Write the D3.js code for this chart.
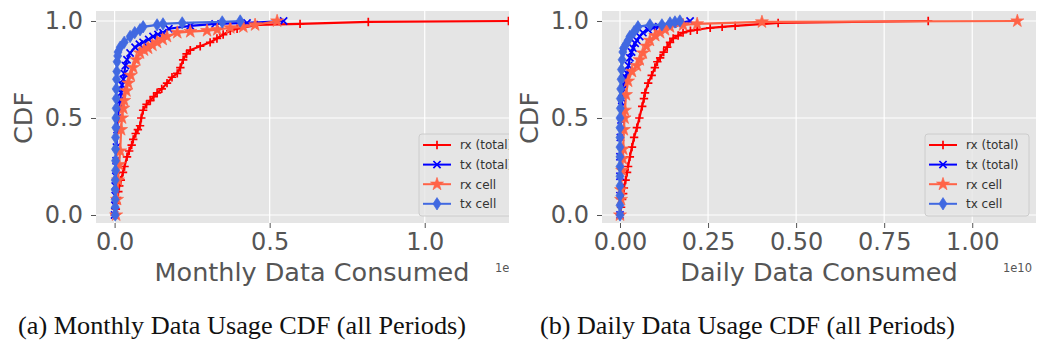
<!DOCTYPE html>
<html>
<head>
<meta charset="utf-8">
<script src="https://cdn.jsdelivr.net/npm/d3@7"></script>
<style>
  body { margin: 0; background: #fff; }
  svg { display: block; }
</style>
</head>
<body>
<svg id="chart" width="1038" height="347"></svg>
<script>
// Series labels (legend order == draw order)
const seriesNames = ['rx (total)', 'tx (total)', 'rx cell', 'tx cell'];

// Monthly usage CDF, x in units of 1e10 bytes: [value, cdf]
const monthlyRxTotal = [[0.000,0.00],[0.004,0.03],[0.006,0.06],[0.008,0.09],[0.012,0.12],[0.015,0.15],[0.020,0.18],[0.027,0.22],[0.032,0.25],[0.040,0.30],[0.047,0.33],[0.055,0.36],[0.060,0.39],[0.068,0.42],[0.075,0.44],[0.082,0.46],[0.086,0.50],[0.092,0.54],[0.103,0.57],[0.115,0.59],[0.126,0.61],[0.137,0.63],[0.152,0.65],[0.169,0.68],[0.185,0.71],[0.202,0.73],[0.212,0.76],[0.221,0.80],[0.232,0.83],[0.244,0.85],[0.276,0.87],[0.308,0.89],[0.330,0.91],[0.350,0.93],[0.373,0.95],[0.395,0.96],[0.460,0.98],[0.598,0.985],[0.818,0.995],[1.270,1.00]];
const monthlyTxTotal = [[0.000,0.00],[0.001,0.05],[0.002,0.10],[0.002,0.15],[0.004,0.20],[0.005,0.28],[0.006,0.35],[0.008,0.44],[0.011,0.50],[0.014,0.55],[0.018,0.59],[0.021,0.63],[0.024,0.67],[0.028,0.70],[0.031,0.73],[0.035,0.77],[0.040,0.80],[0.050,0.835],[0.066,0.865],[0.080,0.88],[0.092,0.89],[0.110,0.905],[0.124,0.92],[0.140,0.93],[0.156,0.94],[0.175,0.96],[0.244,0.975],[0.324,0.985],[0.427,0.99],[0.545,1.00]];
const monthlyRxCell = [[0.005,0.00],[0.008,0.08],[0.011,0.18],[0.014,0.26],[0.018,0.33],[0.021,0.44],[0.024,0.50],[0.028,0.55],[0.031,0.59],[0.038,0.64],[0.044,0.68],[0.052,0.72],[0.060,0.76],[0.070,0.80],[0.082,0.835],[0.095,0.85],[0.108,0.86],[0.122,0.875],[0.137,0.89],[0.155,0.905],[0.169,0.92],[0.202,0.94],[0.244,0.945],[0.298,0.95],[0.331,0.955],[0.373,0.965],[0.415,0.97],[0.453,0.98],[0.524,1.00]];
const monthlyTxCell = [[0.002,0.00],[0.002,0.04],[0.002,0.08],[0.002,0.13],[0.002,0.18],[0.003,0.23],[0.003,0.28],[0.003,0.34],[0.003,0.40],[0.004,0.45],[0.004,0.50],[0.005,0.55],[0.005,0.60],[0.005,0.65],[0.006,0.70],[0.007,0.74],[0.008,0.79],[0.010,0.82],[0.011,0.84],[0.018,0.865],[0.031,0.89],[0.050,0.92],[0.065,0.94],[0.082,0.955],[0.092,0.97],[0.137,0.98],[0.156,0.985],[0.218,0.99],[0.347,0.995],[0.405,1.00]];

// Daily usage CDF, x in units of 1e10 bytes: [value, cdf]
const dailyRxTotal = [[0.000,0.00],[0.003,0.04],[0.006,0.08],[0.009,0.11],[0.011,0.14],[0.016,0.18],[0.020,0.22],[0.023,0.25],[0.028,0.30],[0.034,0.35],[0.040,0.40],[0.048,0.45],[0.055,0.50],[0.063,0.56],[0.068,0.60],[0.071,0.63],[0.080,0.68],[0.090,0.72],[0.099,0.76],[0.106,0.79],[0.114,0.81],[0.124,0.84],[0.134,0.865],[0.142,0.89],[0.151,0.91],[0.165,0.925],[0.179,0.94],[0.200,0.95],[0.219,0.955],[0.256,0.965],[0.290,0.97],[0.327,0.975],[0.449,0.99],[0.875,1.00]];
const dailyTxTotal = [[0.000,0.00],[0.000,0.10],[0.000,0.20],[0.000,0.30],[0.001,0.40],[0.003,0.49],[0.005,0.56],[0.006,0.60],[0.009,0.65],[0.011,0.67],[0.016,0.71],[0.020,0.73],[0.024,0.77],[0.028,0.81],[0.033,0.84],[0.037,0.86],[0.043,0.885],[0.048,0.90],[0.056,0.92],[0.065,0.94],[0.080,0.955],[0.094,0.965],[0.110,0.97],[0.128,0.98],[0.150,0.985],[0.170,0.99],[0.199,1.00]];
const dailyRxCell = [[0.000,0.00],[0.003,0.08],[0.003,0.13],[0.006,0.23],[0.008,0.29],[0.009,0.34],[0.011,0.44],[0.013,0.50],[0.014,0.54],[0.017,0.62],[0.023,0.69],[0.034,0.74],[0.048,0.77],[0.056,0.80],[0.065,0.835],[0.075,0.87],[0.085,0.90],[0.100,0.925],[0.114,0.94],[0.128,0.955],[0.142,0.97],[0.179,0.98],[0.219,0.985],[0.403,0.995],[1.128,1.00]];
const dailyTxCell = [[0.000,0.00],[0.000,0.05],[0.000,0.10],[0.000,0.15],[0.000,0.20],[0.000,0.25],[0.000,0.30],[0.000,0.35],[0.000,0.40],[0.000,0.45],[0.000,0.50],[0.001,0.55],[0.001,0.60],[0.002,0.65],[0.003,0.70],[0.004,0.75],[0.006,0.80],[0.008,0.84],[0.010,0.86],[0.017,0.88],[0.023,0.90],[0.028,0.92],[0.040,0.945],[0.051,0.97],[0.085,0.98],[0.119,0.98],[0.142,0.99],[0.156,0.995],[0.170,1.00]];

// Ticks and labels
const cdfTicks = [0, 0.5, 1.0];
const monthlyTicks = [0, 0.5, 1.0];
const dailyTicks = [0, 0.25, 0.5, 0.75, 1.0];
const captions = ['(a) Monthly Data Usage CDF (all Periods)', '(b) Daily Data Usage CDF (all Periods)'];

// Styles
const colors = ['#ff0000', '#0000ff', '#ff6347', '#4169e1'];
const markers = ['plus', 'cross', 'star', 'diamond'];
const tick_color = '#555555';
const font = 'DejaVu Sans, sans-serif';

const svg = d3.select('#chart');

// Marker shapes, drawn around 0,0
function marker_path(kind) {
  if (kind === 'plus') return 'M-4.2,0H4.2M0,-4.2V4.2';
  if (kind === 'cross') return 'M-3.6,-3.6L3.6,3.6M-3.6,3.6L3.6,-3.6';
  if (kind === 'star') return d3.symbol(d3.symbolStar, 52)();
  return 'M0,-6.2L4,0L0,6.2L-4,0Z';
}

function draw_marker(g, kind, color) {
  const p = g.append('path').attr('d', marker_path(kind));
  if (kind === 'plus' || kind === 'cross') {
    p.attr('fill', 'none').attr('stroke', color).attr('stroke-width', 1.7);
  } else {
    p.attr('fill', color).attr('stroke', color).attr('stroke-width', 0.7);
  }
  return p;
}

function draw_panel(opts) {
  const root = svg.append('g');
  if (opts.clip_w) {
    svg.append('clipPath').attr('id', opts.id + '_clip')
      .append('rect').attr('x', opts.left - 200).attr('y', 0)
      .attr('width', opts.clip_w - opts.left + 200).attr('height', 300);
    root.attr('clip-path', `url(#${opts.id}_clip)`);
  }

  const x = d3.scaleLinear().domain(opts.x_domain).range([opts.left, opts.right]);
  const y = d3.scaleLinear().domain([-0.0412, 1.0515]).range([223, 11]);

  // Background
  root.append('rect')
    .attr('x', opts.left).attr('y', 11)
    .attr('width', opts.right - opts.left).attr('height', 212)
    .attr('fill', '#e5e5e5');

  // Grid
  const grid = root.append('g');
  grid.selectAll('line.gx').data(opts.x_ticks).enter().append('line')
    .attr('x1', (d) => x(d)).attr('x2', (d) => x(d))
    .attr('y1', 11).attr('y2', 223)
    .attr('stroke', '#fff').attr('stroke-width', 1.2);
  grid.selectAll('line.gy').data(cdfTicks).enter().append('line')
    .attr('y1', (d) => y(d)).attr('y2', (d) => y(d))
    .attr('x1', opts.left).attr('x2', opts.right)
    .attr('stroke', '#fff').attr('stroke-width', 1.2);

  // Axes
  const x_axis = root.append('g').attr('transform', 'translate(0,223)')
    .call(d3.axisBottom(x).tickValues(opts.x_ticks).tickFormat(d3.format(opts.x_fmt))
      .tickSize(5).tickPadding(5));
  const y_axis = root.append('g').attr('transform', `translate(${opts.left},0)`)
    .call(d3.axisLeft(y).tickValues(cdfTicks).tickFormat(d3.format('.1f'))
      .tickSize(5).tickPadding(8));
  [x_axis, y_axis].forEach((a) => {
    a.select('.domain').remove();
    a.selectAll('line').attr('stroke', tick_color);
    a.selectAll('text').attr('fill', tick_color)
      .style('font-family', font).style('font-size', '24px');
  });

  // Axis labels
  root.append('text')
    .attr('x', (opts.left + opts.right) / 2).attr('y', 281)
    .attr('text-anchor', 'middle').attr('fill', tick_color)
    .style('font-family', font).style('font-size', '25.5px')
    .text(opts.x_label);
  root.append('text')
    .attr('transform', `translate(${opts.ylab_x},118) rotate(-90)`)
    .attr('text-anchor', 'middle').attr('fill', tick_color)
    .style('font-family', font).style('font-size', '25.5px')
    .text('CDF');
  root.append('text')
    .attr('x', opts.right - 4).attr('y', 272)
    .attr('text-anchor', 'end').attr('fill', tick_color)
    .style('font-family', font).style('font-size', '11.5px')
    .text('1e10');

  // Curves
  const line = d3.line().x((d) => x(d[0])).y((d) => y(d[1]));
  opts.series.forEach((data, i) => {
    const g = root.append('g');
    g.append('path').datum(data)
      .attr('d', line).attr('fill', 'none')
      .attr('stroke', colors[i]).attr('stroke-width', 2.2);
    g.selectAll('g.m').data(data).enter().append('g')
      .attr('transform', (d) => `translate(${x(d[0])},${y(d[1])})`)
      .each(function () { draw_marker(d3.select(this), markers[i], colors[i]); });
  });

  // Legend
  const lg = root.append('g').attr('transform', `translate(${opts.legend_x},134)`);
  lg.append('rect')
    .attr('width', 104).attr('height', 82).attr('rx', 3)
    .attr('fill', '#e5e5e5').attr('fill-opacity', 0.8)
    .attr('stroke', '#cccccc').attr('stroke-width', 1);
  seriesNames.forEach((name, i) => {
    const ry = 11 + i * 19.6;
    lg.append('line').attr('x1', 4).attr('x2', 32).attr('y1', ry).attr('y2', ry)
      .attr('stroke', colors[i]).attr('stroke-width', 2);
    draw_marker(lg.append('g').attr('transform', `translate(18,${ry})`), markers[i], colors[i]);
    lg.append('text').attr('x', 41).attr('y', ry + 4.3)
      .attr('fill', '#333')
      .style('font-family', font).style('font-size', '12px')
      .text(name);
  });
}

draw_panel({
  id: 'monthly', left: 96, right: 528, clip_w: 509,
  x_domain: [-0.06, 1.333], x_ticks: monthlyTicks, x_fmt: '.1f',
  x_label: 'Monthly Data Consumed', ylab_x: 32, legend_x: 419,
  series: [monthlyRxTotal, monthlyTxTotal, monthlyRxCell, monthlyTxCell],
});

draw_panel({
  id: 'daily', left: 602, right: 1036, clip_w: null,
  x_domain: [-0.0511, 1.181], x_ticks: dailyTicks, x_fmt: '.2f',
  x_label: 'Daily Data Consumed', ylab_x: 538, legend_x: 925,
  series: [dailyRxTotal, dailyTxTotal, dailyRxCell, dailyTxCell],
});

// Captions under each panel
const cap_pos = [[18, 448], [540, 415]];
captions.forEach((c, i) => {
  svg.append('text')
    .attr('x', cap_pos[i][0]).attr('y', 334)
    .attr('textLength', cap_pos[i][1]).attr('lengthAdjust', 'spacingAndGlyphs')
    .attr('fill', '#111')
    .style('font-family', 'Liberation Serif, serif').style('font-size', '25px')
    .text(c);
});
</script>
</body>
</html>
